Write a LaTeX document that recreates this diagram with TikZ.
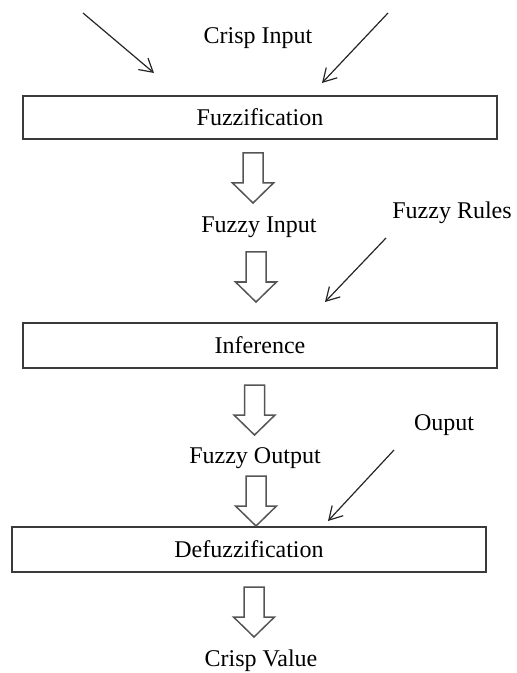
\documentclass[tikz,border=0pt]{standalone}
\usepackage{fontspec}
\setmainfont{Liberation Serif}
\usetikzlibrary{arrows.meta}
\definecolor{boxline}{HTML}{3A3A3A}
\definecolor{hollowgray}{HTML}{555555}
\begin{document}
\begin{tikzpicture}[x=0.5pt,y=-0.5pt,
  font=\fontsize{12pt}{14pt}\selectfont,
  stage/.style={draw=boxline, line width=0.8pt, minimum width=237pt, inner sep=0pt},
  label/.style={inner sep=0pt},
  thin/.style={draw=black!85, line width=0.6pt, -{Straight Barb[length=6.5pt,width=7.5pt]}},
  hollow/.pic={\draw[hollowgray, line width=0.75pt, line join=miter, fill=white]
      (-10,0) -- (-10,30) -- (-20.5,30) -- (0,50) -- (20.5,30) -- (10,30) -- (10,0) -- cycle;}
]
\useasboundingbox (0,0) rectangle (516,673);

% processing stages
\node[stage, minimum height=21.5pt] (fuzz) at (260,117.5) {Fuzzification};
\node[stage, minimum height=22.5pt] (infer) at (260,345.5) {Inference};
\node[stage, minimum height=22.5pt] (defuzz) at (249,549.5) {Defuzzification};

% labels
\node[label] (crisp) at (258,38) {Crisp Input};
\node[label] (fin) at (259,227) {Fuzzy Input};
\node[label] (rules) at (452,213) {Fuzzy Rules};
\node[label] (fout) at (255,458) {Fuzzy Output};
\node[label] (ouput) at (444,425) {Ouput};
\node[label] (cval) at (261,661) {Crisp Value};

% hollow flow arrows
\pic at (253,153) {hollow};
\pic at (256,252) {hollow};
\pic at (254.5,385) {hollow};
\pic at (256,476) {hollow};
\pic at (254,587) {hollow};

% incoming lines
\coordinate (ci1s) at (83,13);
\coordinate (ci1e) at (154,73);
\coordinate (ci2s) at (388,13);
\coordinate (ci2e) at (322,83);
\coordinate (frs) at (386,238);
\coordinate (fre) at (325,302);
\coordinate (ous) at (394,450);
\coordinate (oue) at (328,521);
\draw[thin] (ci1s) -- (ci1e);
\draw[thin] (ci2s) -- (ci2e);
\draw[thin] (frs) -- (fre);
\draw[thin] (ous) -- (oue);
\end{tikzpicture}
\end{document}
